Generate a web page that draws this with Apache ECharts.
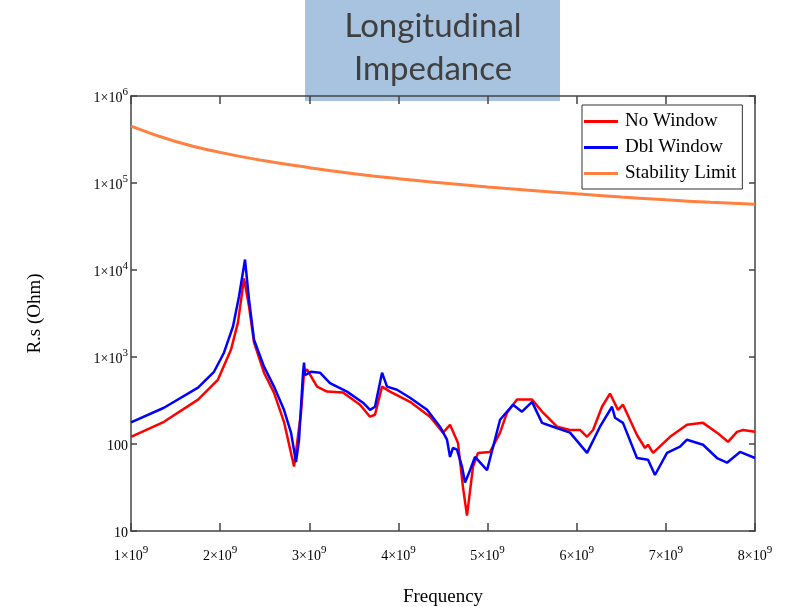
<!DOCTYPE html>
<html>
<head>
<meta charset="utf-8">
<script src="https://cdn.jsdelivr.net/npm/echarts@6/dist/echarts.min.js"></script>
<style>
  html, body { margin: 0; padding: 0; background: #fff; }
  #chart { width: 792px; height: 607px; }
</style>
</head>
<body>
<div id="chart"></div>
<script>
// frequency in GHz (axis shows n×10^9), impedance in Ohm
const noWindow = [
  [1.000, 121], [1.370, 180], [1.752, 324], [1.976, 550], [2.122, 1217], [2.200, 2500],
  [2.268, 8000], [2.324, 3800], [2.380, 1470], [2.492, 660], [2.604, 390], [2.716, 180],
  [2.829, 55], [2.907, 229], [2.941, 660], [2.974, 720], [3.087, 457], [3.199, 400],
  [3.378, 390], [3.569, 283], [3.681, 206], [3.737, 217], [3.816, 457], [3.906, 400],
  [4.130, 305], [4.354, 206], [4.500, 135], [4.579, 166], [4.668, 103], [4.724, 32],
  [4.769, 15], [4.837, 55], [4.893, 79], [5.027, 81], [5.140, 135], [5.218, 229],
  [5.330, 324], [5.499, 324], [5.622, 229], [5.779, 158], [5.925, 145], [6.037, 145],
  [6.116, 121], [6.183, 145], [6.284, 268], [6.373, 380], [6.463, 247], [6.519, 283],
  [6.676, 127], [6.766, 90], [6.800, 98], [6.856, 79], [7.047, 121], [7.237, 166],
  [7.417, 175], [7.574, 135], [7.697, 106], [7.798, 138], [7.866, 145], [8.000, 138]
];
const dblWindow = [
  [1.000, 177], [1.370, 261], [1.752, 444], [1.931, 676], [2.043, 1120], [2.144, 2240],
  [2.212, 5000], [2.279, 13200], [2.324, 4560], [2.380, 1580], [2.492, 775], [2.604, 457],
  [2.716, 247], [2.795, 135], [2.851, 62], [2.885, 112], [2.930, 660], [2.941, 861],
  [2.952, 620], [3.019, 676], [3.120, 660], [3.232, 500], [3.423, 400], [3.603, 298],
  [3.681, 247], [3.737, 268], [3.816, 660], [3.872, 457], [3.984, 420], [4.130, 340],
  [4.321, 247], [4.466, 158], [4.545, 112], [4.579, 71], [4.612, 90], [4.657, 86],
  [4.713, 55], [4.747, 36], [4.803, 50], [4.859, 71], [4.994, 50], [5.140, 190],
  [5.285, 283], [5.386, 235], [5.499, 305], [5.611, 175], [5.734, 158], [5.925, 135],
  [6.116, 79], [6.261, 158], [6.396, 268], [6.430, 200], [6.519, 175], [6.676, 69],
  [6.800, 66], [6.878, 44], [7.013, 79], [7.159, 93], [7.237, 112], [7.417, 98],
  [7.574, 69], [7.686, 61], [7.832, 81], [8.000, 69]
];
const stabilityLimit = [
  [1.0, 450000], [1.5, 300000], [2.0, 225000], [2.5, 180000], [3.0, 150000],
  [3.5, 128000], [4.0, 112000], [4.5, 100000], [5.0, 90000], [5.5, 82000],
  [6.0, 75000], [6.5, 69000], [7.0, 64000], [7.5, 60000], [8.0, 57000]
];
const seriesNames = ['No Window', 'Dbl Window', 'Stability Limit'];
const titleLines = ['Longitudinal', 'Impedance'];

const serif = 'Liberation Serif';
const axisColor = '#444';
const rich = {
  b: { fontFamily: serif, fontSize: 14, color: '#000', lineHeight: 18, verticalAlign: 'bottom' },
  s: { fontFamily: serif, fontSize: 11, color: '#000', lineHeight: 18, verticalAlign: 'top' }
};

var myChart = echarts.init(document.getElementById('chart'));
var option = {
  animation: false,
  grid: { left: 131, right: 37, top: 96, bottom: 76, containLabel: false, outerBoundsMode: 'none' },
  legend: {
    data: seriesNames,
    orient: 'vertical',
    left: 582,
    top: 105,
    padding: [7, 6, 6, 2],
    itemGap: 7,
    itemWidth: 34,
    itemHeight: 3,
    icon: 'rect',
    backgroundColor: '#fff',
    borderColor: '#333',
    borderWidth: 1,
    textStyle: { fontFamily: serif, fontSize: 19, color: '#000', padding: [0, 0, 0, 2] }
  },
  xAxis: [
    {
      type: 'value', min: 1, max: 8, interval: 1,
      name: 'Frequency', nameLocation: 'middle', nameGap: 57,
      nameTextStyle: { fontFamily: serif, fontSize: 19, color: '#000' },
      axisLine: { lineStyle: { color: axisColor, width: 1.5 } },
      axisTick: { inside: true, length: 8, lineStyle: { color: axisColor, width: 1.5 } },
      axisLabel: {
        margin: 14,
        formatter: function (v) { return '{b|' + v + '×10}{s|9}'; },
        rich: rich
      },
      splitLine: { show: false }
    },
    {
      type: 'value', min: 1, max: 8, interval: 1, position: 'top',
      axisLine: { lineStyle: { color: axisColor, width: 1.5 } },
      axisTick: { inside: true, length: 8, lineStyle: { color: axisColor, width: 1.5 } },
      axisLabel: { show: false },
      splitLine: { show: false }
    }
  ],
  yAxis: [
    {
      type: 'log', logBase: 10, min: 10, max: 1000000,
      name: 'R.s (Ohm)', nameLocation: 'middle', nameGap: 86, nameRotate: 90,
      nameTextStyle: { fontFamily: serif, fontSize: 19, color: '#000' },
      axisLine: { lineStyle: { color: axisColor, width: 1.5 } },
      axisTick: { inside: true, length: 6, lineStyle: { color: axisColor, width: 1.5 } },
      minorTick: { show: false },
      axisLabel: {
        margin: 3,
        formatter: function (v) {
          var e = Math.round(Math.log10(v));
          if (e >= 3) return '{b|1×10}{s|' + e + '}';
          return '{b|' + Math.round(v) + '}';
        },
        rich: rich
      },
      splitLine: { show: false }
    },
    {
      type: 'log', logBase: 10, min: 10, max: 1000000, position: 'right',
      axisLine: { lineStyle: { color: axisColor, width: 1.5 } },
      axisTick: { inside: true, length: 6, lineStyle: { color: axisColor, width: 1.5 } },
      axisLabel: { show: false },
      splitLine: { show: false }
    }
  ],
  series: [
    {
      name: seriesNames[0], type: 'line', data: noWindow, showSymbol: false,
      color: '#ff0000', lineStyle: { color: '#ff0000', width: 2.5 }, z: 3
    },
    {
      name: seriesNames[1], type: 'line', data: dblWindow, showSymbol: false,
      color: '#0000ff', lineStyle: { color: '#0000ff', width: 2.5 }, z: 4
    },
    {
      name: seriesNames[2], type: 'line', data: stabilityLimit, showSymbol: false, smooth: true,
      color: '#ff8040', lineStyle: { color: '#ff8040', width: 3 }, z: 2
    }
  ],
  graphic: [
    {
      type: 'group', left: 305, top: 0, z: 100,
      children: [
        { type: 'rect', shape: { x: 0, y: 0, width: 255, height: 101 }, style: { fill: '#a7c3df' } },
        {
          type: 'text', x: 128, y: 26,
          style: { text: titleLines[0], font: '33px Lato', fill: '#404040', align: 'center', verticalAlign: 'middle' }
        },
        {
          type: 'text', x: 128, y: 69,
          style: { text: titleLines[1], font: '33px Lato', fill: '#404040', align: 'center', verticalAlign: 'middle' }
        }
      ]
    }
  ]
};
myChart.setOption(option);
window.addEventListener('resize', () => {
  myChart.resize();
});
</script>
</body>
</html>
